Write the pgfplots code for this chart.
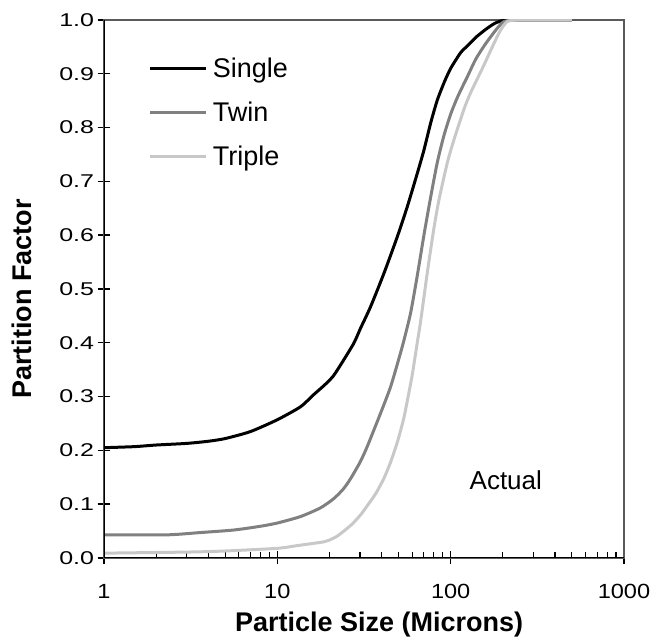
\documentclass[border=0pt]{standalone}
\usepackage{pgfplots}
\pgfplotsset{compat=1.18}
\usepackage{fontspec}
\setmainfont{Liberation Sans}
\newfontfamily\ytf{Liberation Sans}[FakeStretch=1.35]
\newfontfamily\xtf{Liberation Sans}[FakeStretch=1.15]
\definecolor{twin}{RGB}{128,128,128}
\definecolor{triple}{RGB}{200,200,200}
\definecolor{frame}{RGB}{90,90,90}
\begin{document}
\begin{tikzpicture}
\path (-104pt,-84pt) rectangle (553pt,558pt);
\begin{axis}[
  at={(0pt,0pt)}, anchor=south west,
  width=520pt, height=538pt, scale only axis,
  xmode=log, xmin=1, xmax=1000, ymin=0, ymax=1,
  xtick={1,10,100,1000}, xticklabels={1,10,100,1000},
  ytick={0,0.1,0.2,0.3,0.4,0.5,0.6,0.7,0.8,0.9,1.0},
  /pgf/number format/assume math mode=true,
  y tick label style={/pgf/number format/.cd, fixed, fixed zerofill, precision=1, /tikz/.cd, font=\ytf\fontsize{18.5}{20}\selectfont},
  x tick label style={font=\xtf\fontsize{20.5}{22}\selectfont, yshift=-16pt},
  xtick pos=lower, ytick pos=left,
  tick align=center,
  major tick length=13pt, minor tick length=6pt,
  tick style={black, line width=1.4pt},
  minor tick style={yshift=3pt, line width=1.2pt},
  axis line style={draw=frame, line width=1.2pt},
  xlabel={Particle Size (Microns)},
  ylabel={Partition Factor},
  xlabel style={font=\fontsize{27}{30}\selectfont\bfseries, at={(axis description cs:0.529,-0.1245)}, anchor=center},
  ylabel style={font=\fontsize{27}{30}\selectfont\bfseries, at={(axis description cs:-0.158,0.481)}, anchor=center},
  legend style={draw=none, fill=none, at={(rel axis cs:0.08,0.937)}, anchor=north west, font=\fontsize{27}{30}\selectfont, row sep=19pt, nodes={inner xsep=5pt}, /tikz/every even column/.append style={column sep=5pt}},
  legend cell align=left,
  legend image code/.code={\draw[#1] (0pt,0pt) -- (56pt,0pt);},
]
\addplot[black, line width=3pt, line join=round, smooth, tension=0.4] coordinates {
(1,0.205)(1.5,0.207)(2,0.210)(3,0.213)(4,0.217)(5,0.222)(7,0.235)(10,0.257)(13.6,0.281)(16,0.302)(18.8,0.322)(21,0.338)(23.5,0.362)(27.6,0.399)(30.2,0.427)(34.5,0.467)(41.2,0.529)(49.2,0.597)(56.2,0.653)(64.2,0.715)(70.1,0.758)(76.6,0.808)(83.7,0.851)(92,0.885)(100,0.910)(114,0.939)(125,0.952)(140,0.968)(160,0.983)(180,0.994)(200,0.999)(230,1.0)(300,1.0)(400,1.0)(500,1.0)
};
\addlegendentry{Single}
\addplot[twin, line width=3pt, line join=round, smooth, tension=0.4] coordinates {
(1,0.043)(2.3,0.043)(3.5,0.047)(5.6,0.052)(8,0.059)(10,0.065)(13.6,0.077)(17.7,0.093)(21.1,0.110)(24,0.128)(26.4,0.147)(30,0.178)(33,0.207)(39.4,0.269)(45,0.318)(50,0.368)(53.5,0.402)(58.7,0.455)(64.2,0.525)(70.1,0.600)(76.6,0.670)(83.7,0.735)(91.4,0.785)(100,0.825)(110,0.858)(125,0.895)(140,0.928)(160,0.957)(186,0.985)(203,0.997)(230,1.0)(300,1.0)(500,1.0)
};
\addlegendentry{Twin}
\addplot[triple, line width=3pt, line join=round, smooth, tension=0.4] coordinates {
(1,0.009)(3,0.011)(5,0.013)(10,0.018)(13,0.023)(16,0.027)(18.5,0.030)(20.2,0.034)(22,0.040)(24.2,0.050)(27,0.063)(30.2,0.080)(33,0.097)(37,0.120)(41.2,0.148)(45,0.178)(49.2,0.215)(53.5,0.258)(56.2,0.292)(60,0.340)(64,0.398)(67.1,0.44)(73.3,0.530)(79.8,0.610)(85.5,0.665)(95.7,0.735)(104.6,0.778)(119,0.833)(130,0.864)(155,0.915)(175,0.952)(194,0.981)(212,0.997)(240,1.0)(300,1.0)(500,1.0)
};
\addlegendentry{Triple}
\node[font=\fontsize{26}{28}\selectfont] at (axis cs:208,0.144) {Actual};
\draw[black, line width=2.8pt] (rel axis cs:0,1) -- (rel axis cs:0,0) -- (rel axis cs:1,0);
\end{axis}
\end{tikzpicture}
\end{document}
